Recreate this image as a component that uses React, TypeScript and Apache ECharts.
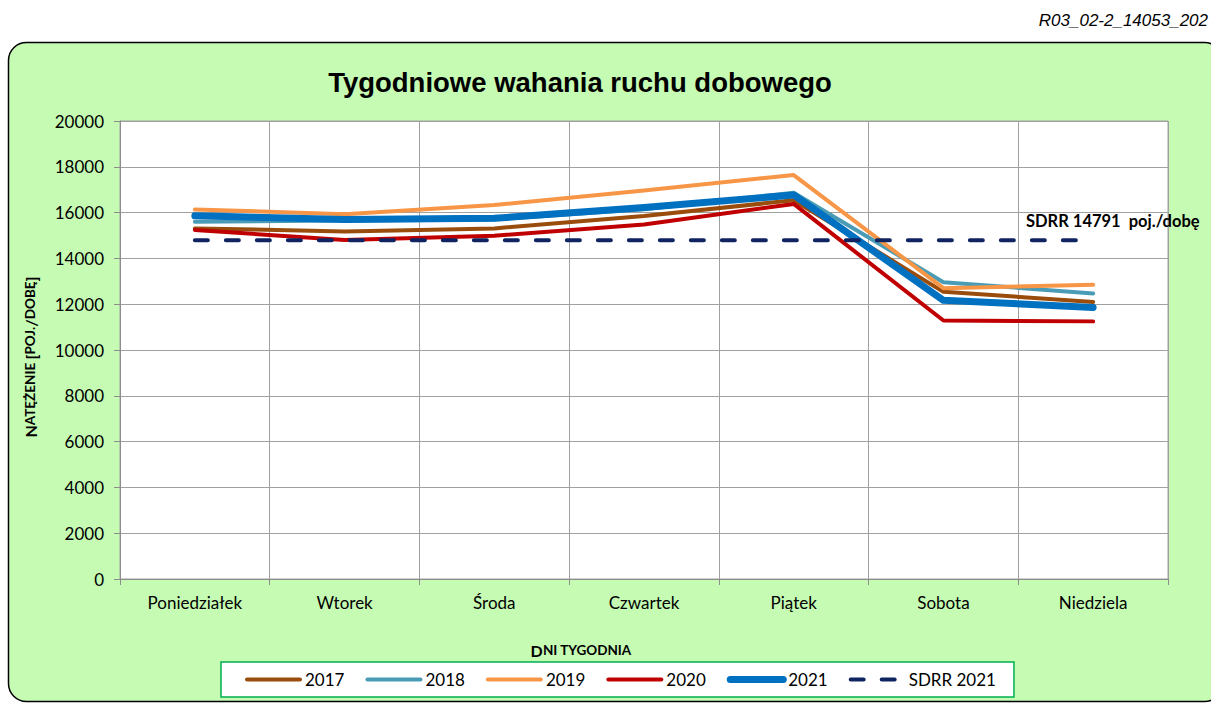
import React, { useEffect, useRef } from "react";
import * as echarts from "echarts";

const categories = ["Poniedziałek", "Wtorek", "Środa", "Czwartek", "Piątek", "Sobota", "Niedziela"];
const y2017 = [15310, 15180, 15310, 15850, 16540, 12540, 12100];
const y2018 = [15600, 15650, 15700, 16150, 16870, 12960, 12470];
const y2019 = [16140, 15930, 16330, 16970, 17640, 12700, 12850];
const y2020 = [15240, 14800, 14990, 15480, 16380, 11290, 11250];
const y2021 = [15860, 15700, 15750, 16220, 16770, 12170, 11860];
const sdrrValue = 14791;
const sdrr = categories.map(() => sdrrValue);
const yTicks = { min: 0, max: 20000, interval: 2000 };

const FONT = "Lato, 'Open Sans', sans-serif";
const DASH = [13, 18];

export default function App() {
  const ref = useRef<HTMLDivElement>(null);
  useEffect(() => {
    if (!ref.current) return;
    const chart = echarts.init(ref.current, undefined, { renderer: "svg" });
    const styles: Record<string, { color: string; width: number; dashed?: boolean }> = {
      "2017": { color: "#994c0c", width: 4 },
      "2018": { color: "#4a9bb5", width: 4 },
      "2019": { color: "#f79646", width: 4 },
      "2020": { color: "#c00000", width: 4 },
      "2021": { color: "#0070c0", width: 7 },
      "SDRR 2021": { color: "#0f2460", width: 4, dashed: true },
    };
    const lineStyleOf = (name: string) => ({
      color: styles[name].color,
      width: styles[name].width,
      cap: "round",
      join: "round",
      type: styles[name].dashed ? DASH : "solid",
    });
    const line = (name: string, data: number[]) => ({
      name,
      type: "line",
      data,
      symbol: "none",
      lineStyle: lineStyleOf(name),
      itemStyle: { color: styles[name].color },
    });
    const legendNames = ["2017", "2018", "2019", "2020", "2021", "SDRR 2021"];
    chart.setOption({
      animation: false,
      textStyle: { fontFamily: FONT },
      grid: {
        left: 120,
        right: 43,
        top: 121,
        bottom: 125,
        show: true,
        backgroundColor: "#ffffff",
        borderColor: "#a0a0a0",
        borderWidth: 1,
      },
      xAxis: {
        type: "category",
        data: categories,
        boundaryGap: true,
        axisLine: { lineStyle: { color: "#8c8c8c" } },
        axisTick: { show: true, length: 6, lineStyle: { color: "#8c8c8c" } },
        splitLine: { show: true, lineStyle: { color: "#a0a0a0" } },
        axisLabel: { color: "#000", fontSize: 17, fontWeight: "normal", fontFamily: FONT, margin: 15 },
      },
      yAxis: {
        type: "value",
        min: yTicks.min,
        max: yTicks.max,
        interval: yTicks.interval,
        axisLine: { show: true, lineStyle: { color: "#8c8c8c" } },
        axisTick: { show: true, length: 6, lineStyle: { color: "#8c8c8c" } },
        splitLine: { show: true, lineStyle: { color: "#a0a0a0" } },
        axisLabel: {
          color: "#000",
          fontSize: 17,
          fontWeight: "normal",
          fontFamily: FONT,
          margin: 16,
          formatter: (v: number) => String(v),
        },
      },
      legend: {
        left: 221,
        top: 662,
        padding: [9, 18, 9, 24],
        itemWidth: 53,
        itemHeight: 20,
        itemGap: 21,
        backgroundColor: "#ffffff",
        borderColor: "#00b050",
        borderWidth: 1.5,
        itemStyle: { opacity: 0 },
        textStyle: { color: "#000", fontSize: 17, fontWeight: "normal", fontFamily: FONT },
        data: legendNames.map((n) => ({
          name: n,
          itemStyle: { opacity: 0 },
          lineStyle: lineStyleOf(n),
        })),
      },
      graphic: [
        {
          type: "rect",
          z: -100,
          shape: { x: 8.5, y: 42.5, width: 1214, height: 659, r: 18 },
          style: { fill: "#c6fbb4", stroke: "#000", lineWidth: 1.5 },
        },
        {
          type: "text",
          x: 1208,
          y: 20,
          style: {
            text: "R03_02-2_14053_202",
            font: "italic 17px 'Liberation Sans', Arial, sans-serif",
            fill: "#000",
            align: "right",
            verticalAlign: "middle",
          },
        },
        {
          type: "text",
          x: 580,
          y: 82,
          style: {
            text: "Tygodniowe wahania ruchu dobowego",
            font: "bold 27.5px 'Liberation Sans', Arial, sans-serif",
            fill: "#000",
            align: "center",
            verticalAlign: "middle",
          },
        },
        {
          type: "text",
          x: 1026,
          y: 221,
          z: 100,
          style: {
            text: "SDRR 14791  poj./dobę",
            font: "bold 16.5px Lato, sans-serif",
            fill: "#000",
            verticalAlign: "middle",
          },
        },
        {
          type: "text",
          x: 581,
          y: 650,
          style: {
            text: "{a|D}{b|NI TYGODNIA}",
            align: "center",
            verticalAlign: "middle",
            rich: {
              a: { fontSize: 16, fontWeight: "bold", fontFamily: FONT, fill: "#000" },
              b: { fontSize: 13.5, fontWeight: "bold", fontFamily: FONT, fill: "#000" },
            },
          },
        },
        {
          type: "text",
          x: 30,
          y: 357,
          rotation: Math.PI / 2,
          style: {
            text: "{a|N}{b|ATĘŻENIE }{a|[}{b|POJ.}{a|/}{b|DOBĘ}{a|]}",
            align: "center",
            verticalAlign: "middle",
            rich: {
              a: { fontSize: 16, fontWeight: "bold", fontFamily: FONT, fill: "#000" },
              b: { fontSize: 13.5, fontWeight: "bold", fontFamily: FONT, fill: "#000" },
            },
          },
        },
      ],
      series: [
        line("2017", y2017),
        line("2018", y2018),
        line("2019", y2019),
        line("2020", y2020),
        line("2021", y2021),
        line("SDRR 2021", sdrr),
      ],
    });
    return () => chart.dispose();
  }, []);
  return (
    <div
      ref={ref}
      style={{ position: "absolute", left: 0, top: 0, width: 1211, height: 704, background: "#fff" }}
    />
  );
}
